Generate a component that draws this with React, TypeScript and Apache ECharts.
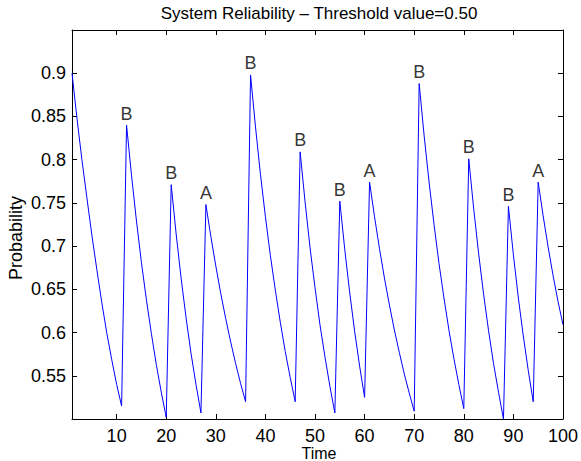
import React, { useEffect, useRef } from "react";
import * as echarts from "echarts";

// Reliability value at time steps 1..100
const reliability: number[] = [
  0.900, 0.848, 0.800, 0.756, 0.713, 0.673, 0.635, 0.600, 0.569, 0.540, 0.515,
  0.840, 0.782, 0.729, 0.681, 0.638, 0.599, 0.563, 0.531, 0.502,
  0.771, 0.714, 0.663, 0.617, 0.576, 0.540, 0.507,
  0.748, 0.711, 0.677, 0.645, 0.616, 0.589, 0.564, 0.541, 0.520,
  0.898, 0.838, 0.783, 0.734, 0.689, 0.649, 0.612, 0.578, 0.548, 0.520,
  0.809, 0.751, 0.698, 0.652, 0.609, 0.572, 0.538, 0.507,
  0.752, 0.696, 0.646, 0.601, 0.561, 0.525,
  0.774, 0.734, 0.697, 0.663, 0.632, 0.603, 0.577, 0.552, 0.530, 0.509,
  0.888, 0.828, 0.774, 0.725, 0.680, 0.640, 0.603, 0.570, 0.540, 0.512,
  0.801, 0.743, 0.691, 0.644, 0.602, 0.564, 0.531, 0.500,
  0.746, 0.690, 0.640, 0.596, 0.556, 0.520,
  0.774, 0.735, 0.699, 0.666, 0.636, 0.609,
];

// Maintenance events (time, type)
const eventTimes: number[] = [12, 21, 28, 37, 47, 55, 61, 71, 81, 89, 95];
const eventTypes: string[] = ["B", "B", "A", "B", "B", "B", "A", "B", "B", "B", "A"];

const xTicks: number[] = [10, 20, 30, 40, 50, 60, 70, 80, 90, 100];
const yTicks: number[] = [0.55, 0.6, 0.65, 0.7, 0.75, 0.8, 0.85, 0.9];

const FONT = "Liberation Sans, Arial, Helvetica, sans-serif";
const FS = 18;

export default function App() {
  const ref = useRef<HTMLDivElement>(null);
  useEffect(() => {
    if (!ref.current) return;
    const chart = echarts.init(ref.current, undefined, { renderer: "svg" });
    const lineData = reliability.map((v, i) => [i + 1, v]);
    const labelData = eventTimes.map((t, i) => ({
      value: [t, reliability[t - 1]],
      label: { formatter: eventTypes[i] },
    }));
    const axisCommon = {
      axisLine: { show: true, lineStyle: { color: "#000", width: 1 } },
      axisTick: { show: true, inside: true, length: 5, lineStyle: { color: "#000" } },
      splitLine: { show: false },
    };
    const yFmt = (v: number) => String(Number(v.toFixed(2)));
    chart.setOption({
      animation: false,
      grid: { left: 72, right: 15, top: 30, bottom: 42 },
      xAxis: [
        {
          type: "value", position: "bottom", min: 1, max: 100, ...axisCommon,
          axisTick: { ...axisCommon.axisTick, customValues: xTicks },
          axisLabel: { customValues: xTicks, color: "#000", fontSize: FS, fontFamily: FONT, margin: 8 },
        },
        {
          type: "value", position: "top", min: 1, max: 100, ...axisCommon,
          axisTick: { ...axisCommon.axisTick, customValues: xTicks },
          axisLabel: { show: false },
        },
      ],
      yAxis: [
        {
          type: "value", position: "left", min: 0.5, max: 0.95, ...axisCommon,
          axisTick: { ...axisCommon.axisTick, customValues: yTicks },
          axisLabel: { customValues: yTicks, formatter: yFmt, color: "#000", fontSize: FS, fontFamily: FONT, margin: 6 },
        },
        {
          type: "value", position: "right", min: 0.5, max: 0.95, ...axisCommon,
          axisTick: { ...axisCommon.axisTick, customValues: yTicks },
          axisLabel: { show: false },
        },
      ],
      series: [
        {
          type: "line",
          data: lineData,
          showSymbol: false,
          symbol: "none",
          lineStyle: { color: "#0000ff", width: 1 },
          clip: true,
        },
        {
          type: "scatter",
          data: labelData,
          symbolSize: 1,
          itemStyle: { color: "rgba(0,0,0,0)" },
          label: {
            show: true,
            position: "top",
            distance: 2,
            color: "#000",
            fontSize: FS,
            fontFamily: FONT,
          },
          z: 5,
        },
      ],
      graphic: [
        {
          type: "text", x: 319, y: 13,
          style: {
            text: "System Reliability \u2013 Threshold value=0.50",
            fill: "#000", font: `17px ${FONT}`, textAlign: "center", textVerticalAlign: "middle",
          },
        },
        {
          type: "text", x: 319, y: 453,
          style: {
            text: "Time", fill: "#000", font: `16px ${FONT}`, textAlign: "center", textVerticalAlign: "middle",
          },
        },
        {
          type: "text", x: 16, y: 238, rotation: Math.PI / 2,
          style: {
            text: "Probability", fill: "#000", font: `18px ${FONT}`, textAlign: "center", textVerticalAlign: "middle",
          },
        },
      ],
    });
    return () => chart.dispose();
  }, []);
  return (
    <div
      ref={ref}
      style={{ position: "absolute", left: 0, top: 0, width: 581, height: 461, background: "#fff" }}
    />
  );
}
